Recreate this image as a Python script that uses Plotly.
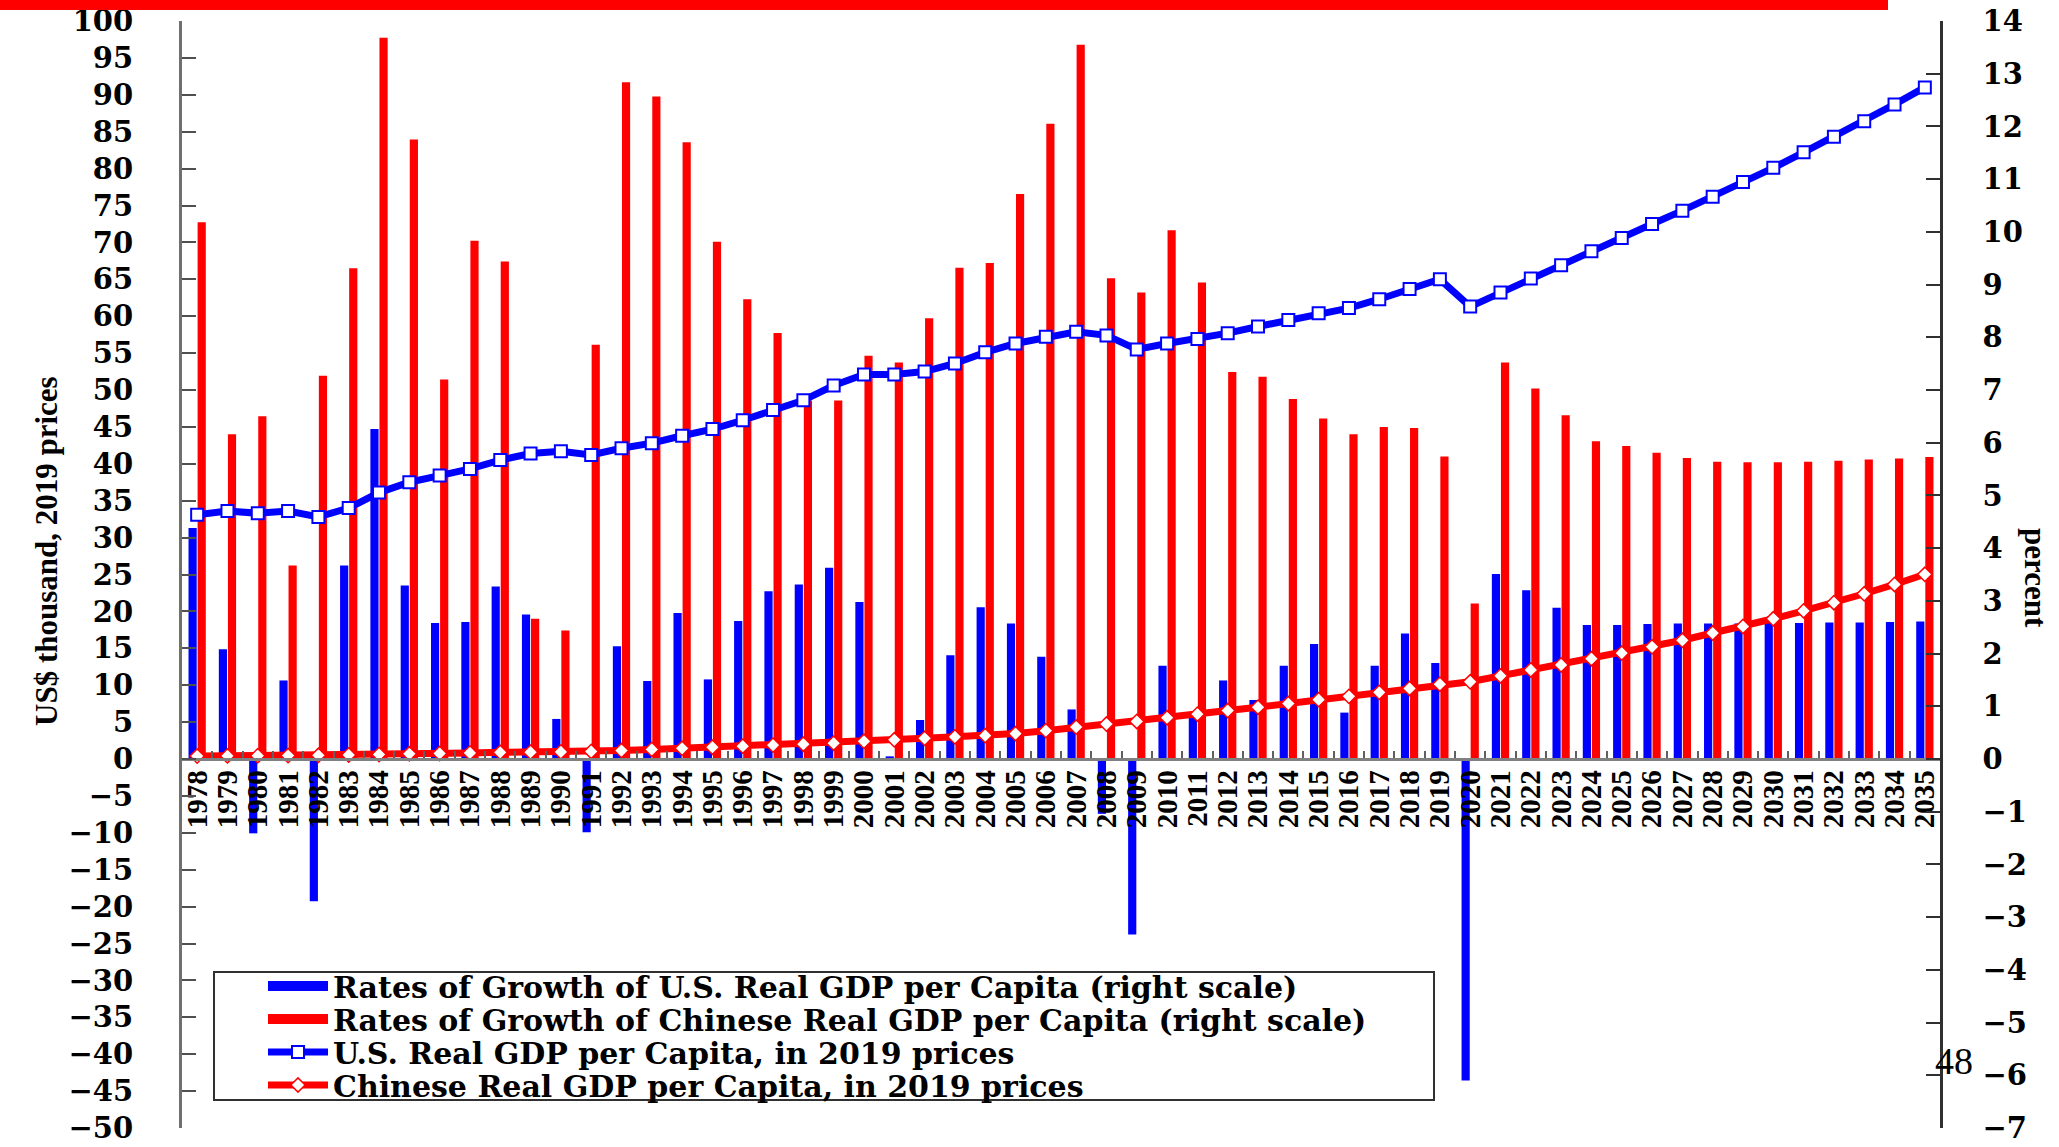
import plotly.graph_objects as go

years = ["1978", "1979", "1980", "1981", "1982", "1983", "1984", "1985", "1986", "1987",
         "1988", "1989", "1990", "1991", "1992", "1993", "1994", "1995", "1996", "1997",
         "1998", "1999", "2000", "2001", "2002", "2003", "2004", "2005", "2006", "2007",
         "2008", "2009", "2010", "2011", "2012", "2013", "2014", "2015", "2016", "2017",
         "2018", "2019", "2020", "2021", "2022", "2023", "2024", "2025", "2026", "2027",
         "2028", "2029", "2030", "2031", "2032", "2033", "2034", "2035"]

# Rates of growth (percent, right scale)
us_growth = [4.38, 2.08, -1.41, 1.49, -2.70, 3.67, 6.26, 3.29, 2.58, 2.60,
             3.27, 2.74, 0.76, -1.39, 2.14, 1.48, 2.77, 1.51, 2.62, 3.18,
             3.31, 3.63, 2.98, 0.05, 0.74, 1.97, 2.88, 2.57, 1.94, 0.94,
             -1.04, -3.33, 1.77, 0.80, 1.49, 1.12, 1.77, 2.18, 0.88, 1.77,
             2.38, 1.82, -6.10, 3.51, 3.20, 2.87, 2.54, 2.54, 2.56, 2.57,
             2.57, 2.57, 2.58, 2.58, 2.59, 2.59, 2.60, 2.61]

cn_growth = [10.18, 6.16, 6.50, 3.67, 7.27, 9.31, 13.68, 11.75, 7.20, 9.83,
             9.44, 2.66, 2.44, 7.86, 12.84, 12.57, 11.70, 9.81, 8.72, 8.08,
             6.80, 6.80, 7.65, 7.52, 8.36, 9.32, 9.41, 10.72, 12.05, 13.55,
             9.12, 8.85, 10.03, 9.04, 7.34, 7.25, 6.83, 6.46, 6.16, 6.30,
             6.28, 5.74, 2.95, 7.52, 7.03, 6.52, 6.03, 5.94, 5.81, 5.71,
             5.64, 5.63, 5.63, 5.64, 5.66, 5.68, 5.70, 5.73]

# Real GDP per capita (US$ thousand, 2019 prices, left scale)
us_level = [33.1, 33.6, 33.3, 33.6, 32.8, 34.0, 36.1, 37.5, 38.4, 39.3,
            40.5, 41.4, 41.7, 41.2, 42.1, 42.8, 43.8, 44.7, 45.9, 47.3,
            48.6, 50.6, 52.1, 52.1, 52.5, 53.6, 55.1, 56.3, 57.2, 57.9,
            57.4, 55.5, 56.3, 56.9, 57.7, 58.6, 59.5, 60.4, 61.1, 62.3,
            63.7, 65.0, 61.3, 63.2, 65.1, 66.9, 68.8, 70.6, 72.5, 74.3,
            76.2, 78.2, 80.1, 82.2, 84.3, 86.4, 88.7, 91.0]

cn_level = [0.40, 0.42, 0.45, 0.47, 0.50, 0.55, 0.62, 0.70, 0.75, 0.82,
            0.90, 0.92, 0.95, 1.02, 1.15, 1.30, 1.45, 1.60, 1.74, 1.88,
            2.00, 2.14, 2.40, 2.60, 2.80, 3.00, 3.17, 3.44, 3.84, 4.33,
            4.74, 5.09, 5.59, 6.08, 6.57, 7.02, 7.51, 8.04, 8.49, 9.03,
            9.56, 10.14, 10.46, 11.26, 12.07, 12.74, 13.59, 14.35, 15.20, 16.09,
            17.07, 17.96, 19.00, 20.07, 21.18, 22.39, 23.65, 25.03]

left_ticks = list(range(-50, 101, 5))
right_ticks = list(range(-7, 15, 1))

names = ["Rates of Growth of U.S. Real GDP per Capita (right scale)",
         "Rates of Growth of Chinese Real GDP per Capita (right scale)",
         "U.S. Real GDP per Capita, in 2019 prices",
         "Chinese Real GDP per Capita, in 2019 prices"]

BLUE = "#0000FF"
RED = "#FF0000"

fig = go.Figure()

# Bars on the base axis (right side, percent)
fig.add_trace(go.Bar(x=years, y=us_growth, marker=dict(color=BLUE, line=dict(width=0)),
                     yaxis="y", showlegend=False, name=names[0]))
fig.add_trace(go.Bar(x=years, y=cn_growth, marker=dict(color=RED, line=dict(width=0)),
                     yaxis="y", showlegend=False, name=names[1]))

# Legend entries for the bars (thick swatches)
fig.add_trace(go.Scatter(x=[None], y=[None], mode="lines", line=dict(color=BLUE, width=10),
                         name=names[0], yaxis="y2", legend="legend"))
fig.add_trace(go.Scatter(x=[None], y=[None], mode="lines", line=dict(color=RED, width=10),
                         name=names[1], yaxis="y2", legend="legend2"))

# Lines on overlaying axis (left side, thousand US$)
fig.add_trace(go.Scatter(x=years, y=us_level, mode="lines+markers", yaxis="y2", name=names[2],
                         legend="legend3",
                         line=dict(color=BLUE, width=7),
                         marker=dict(symbol="square", size=12, color="white",
                                     line=dict(color=BLUE, width=2))))
fig.add_trace(go.Scatter(x=years, y=cn_level, mode="lines+markers", yaxis="y2", name=names[3],
                         legend="legend4",
                         line=dict(color=RED, width=7),
                         marker=dict(symbol="diamond", size=11, color="white",
                                     line=dict(color=RED, width=1.5))))

W, H = 2059, 1147
L, R, T, B = 182, 119, 21, 19
pw, ph = W - L - R, H - T - B


def px_x(p):
    return (p - L) / pw


def px_y(p):
    return (H - B - p) / ph


def legend_at(row_y):
    return dict(x=px_x(263), y=px_y(row_y), xanchor="left", yanchor="middle",
                bgcolor="rgba(0,0,0,0)", borderwidth=0, itemwidth=60,
                font=dict(family="DejaVu Serif", size=30, weight="bold", color="black"),
                tracegroupgap=0)


fig.update_layout(
    template="none",
    width=W, height=H,
    margin=dict(l=L, r=R, t=T, b=B, pad=0),
    paper_bgcolor="white", plot_bgcolor="white",
    barmode="group", bargap=0.4, bargroupgap=0.1,
    font=dict(family="DejaVu Serif", color="black"),
    xaxis=dict(type="category", anchor="free", position=1 / 3, range=[-0.5, 57.5],
               tickmode="array", tickvals=years, ticktext=years,
               showline=True, linecolor="#808080", linewidth=2.5,
               ticks="inside", ticklen=7, tickwidth=2, tickcolor="#606060",
               tickson="boundaries", tickangle=-90, ticklabelstandoff=-2,
               tickfont=dict(family="Liberation Serif", size=29, weight="bold", color="black"),
               showgrid=False, zeroline=False, automargin=False),
    yaxis=dict(side="right", range=[-7, 14], tickvals=right_ticks,
               showline=True, linecolor="#303030", linewidth=2.5,
               ticks="inside", ticklen=14, tickwidth=2, tickcolor="#303030",
               ticklabelstandoff=34, ticklabeloverflow="allow",
               tickfont=dict(family="DejaVu Serif", size=29, weight="bold", color="black"),
               showgrid=False, zeroline=False, automargin=False),
    yaxis2=dict(overlaying="y", side="left", range=[-50, 100], tickvals=left_ticks,
                showline=True, linecolor="#707070", linewidth=3,
                ticks="inside", ticklen=14, tickwidth=2, tickcolor="#505050",
                ticklabelstandoff=40, ticklabeloverflow="allow",
                tickfont=dict(family="DejaVu Serif", size=29, weight="bold", color="black"),
                showgrid=False, zeroline=False, automargin=False),
    legend=legend_at(986),
    legend2=legend_at(1019),
    legend3=legend_at(1052),
    legend4=legend_at(1085),
    shapes=[
        dict(type="rect", xref="paper", yref="paper", x0=px_x(0), x1=px_x(1888),
             y0=px_y(10), y1=px_y(0), fillcolor=RED, line=dict(width=0), layer="above"),
        dict(type="rect", xref="paper", yref="paper", x0=px_x(214), x1=px_x(1434),
             y0=px_y(1100), y1=px_y(972), fillcolor="rgba(0,0,0,0)",
             line=dict(color="#303030", width=2), layer="above"),
    ],
    annotations=[
        dict(text="US$ thousand, 2019 prices", xref="paper", yref="paper",
             x=px_x(46), y=px_y(551), xanchor="center", yanchor="middle", textangle=-90,
             showarrow=False,
             font=dict(family="Liberation Serif", size=31, weight="bold", color="black")),
        dict(text="percent", xref="paper", yref="paper",
             x=px_x(2036), y=px_y(578), xanchor="center", yanchor="middle", textangle=90,
             showarrow=False,
             font=dict(family="Liberation Serif", size=31, weight="bold", color="black")),
        dict(text="48", xref="paper", yref="paper",
             x=px_x(1954), y=px_y(1061), xanchor="center", yanchor="middle",
             showarrow=False,
             font=dict(family="Liberation Serif", size=38, color="black")),
    ],
)

fig.write_html("out.html",
               config={"displayModeBar": False},
               post_script="document.body.style.margin='0';document.body.style.padding='0';")
